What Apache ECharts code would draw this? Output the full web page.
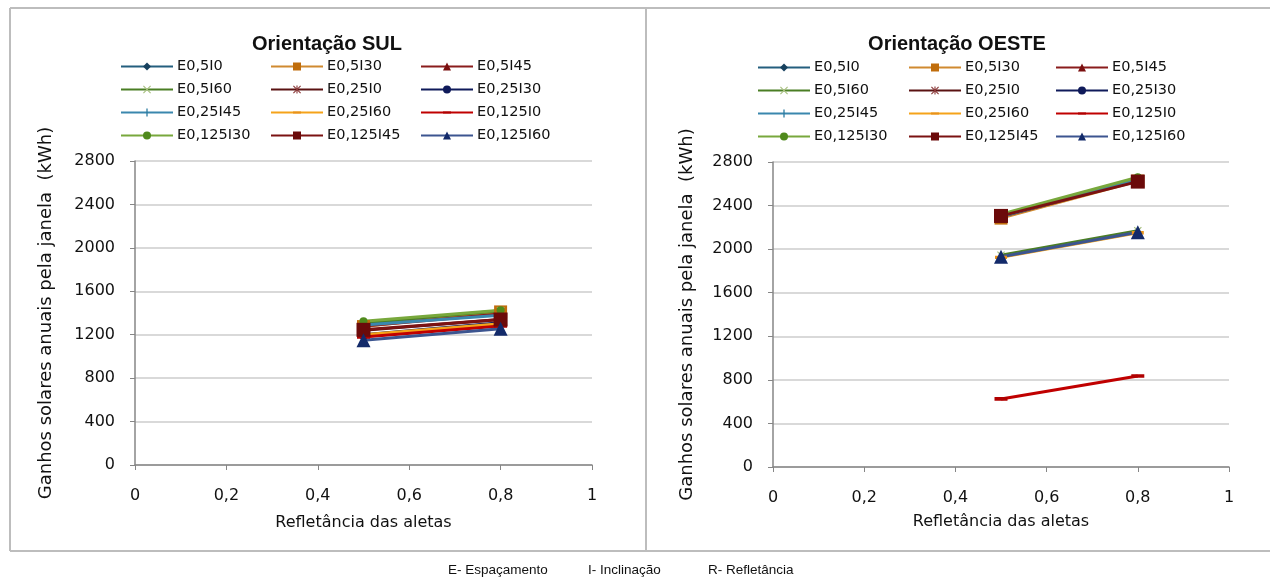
<!DOCTYPE html>
<html>
<head>
<meta charset="utf-8">
<script src="https://cdn.jsdelivr.net/npm/echarts@6/dist/echarts.min.js"></script>
<style>
  html, body { margin: 0; padding: 0; background: #fff; }
  #chart { width: 1270px; height: 580px; }
</style>
</head>
<body>
<div id="chart"></div>
<script>
// Fin reflectance values (x axis)
const reflectance = [0.5, 0.8];

// Cases: E = fin spacing, I = fin inclination
const caseNames = [
  'E0,5I0', 'E0,5I30', 'E0,5I45',
  'E0,5I60', 'E0,25I0', 'E0,25I30',
  'E0,25I45', 'E0,25I60', 'E0,125I0',
  'E0,125I30', 'E0,125I45', 'E0,125I60'
];

// Annual solar gains through the window (kWh), south orientation
const sulAt05 = [1300, 1275, 1280, 1310, 1240, 1200, 1290, 1200, 1180, 1325, 1245, 1150];
const sulAt08 = [1395, 1410, 1390, 1420, 1340, 1310, 1380, 1300, 1280, 1425, 1340, 1255];

// Annual solar gains through the window (kWh), west orientation
const oesteAt05 = [2310, 2285, 2305, 1945, 2300, 2310, 2300, 1925, 625, 2320, 2305, 1930];
const oesteAt08 = [2640, 2625, 2635, 2170, 2630, 2645, 2640, 2150, 835, 2660, 2620, 2155];

// Caption words under the panel
const captionParts = ['E- Espaçamento', 'I- Inclinação', 'R- Refletância'];

// Line / marker styling per case
const lineColors = ['#245f7e', '#d08a30', '#8a1c1c', '#4a7e24', '#5a1212', '#0f1a5a',
                    '#3a87ae', '#f5a31a', '#c00000', '#78a83c', '#7b1212', '#3c5590'];
const markColors = ['#17415e', '#c06d0c', '#7a0f0f', '#a8c080', '#8b3a3a', '#0f1a5a',
                    '#2a7aa0', '#e8921a', '#b00000', '#4f8a1c', '#6b0a0a', '#132a6a'];
const SYM_X = 'path://M0,1L1,0L5,4L9,0L10,1L6,5L10,9L9,10L5,6L1,10L0,9L4,5Z';
const SYM_STAR = 'path://M0,1L1,0L5,4L9,0L10,1L6,5L10,9L9,10L5,6L1,10L0,9L4,5Z M4.3,0L5.7,0L5.7,10L4.3,10Z';
const SYM_PLUS = 'path://M5,0L5.01,0L5,0.01Z M0,10L0.01,10L0,9.99Z M10,10L9.99,10L10,9.99Z M4.2,0L5.8,0L5.8,10L4.2,10Z';
// short horizontal bar; the two tiny corner points keep the symbol box square
const SYM_DASH = 'path://M0,0L0.01,0L0,0.01Z M10,10L9.99,10L10,9.99Z M0,3.6L10,3.6L10,6.4L0,6.4Z';
const symbols = ['diamond', 'rect', 'triangle', SYM_X, SYM_STAR, 'circle',
                 SYM_PLUS, SYM_DASH, SYM_DASH, 'circle', 'rect', 'triangle'];
const symbolSizes = [7, 13, 13, 8, 9, 10, 10, 12, 13, 8, 14, 14];

const FONT = '"Liberation Sans", Arial, sans-serif';
const WIDE = '"DejaVu Sans", "Liberation Sans", sans-serif';

function buildSeries(gridIdx, at05, at08) {
  return caseNames.map((name, i) => ({
    name: name,
    type: 'line',
    xAxisIndex: gridIdx,
    yAxisIndex: gridIdx,
    data: [[reflectance[0], at05[i]], [reflectance[1], at08[i]]],
    symbol: symbols[i],
    symbolSize: symbolSizes[i],
    showSymbol: true,
    lineStyle: { color: lineColors[i], width: 3 },
    itemStyle: { color: markColors[i] },
    emphasis: { disabled: true },
    animation: false
  }));
}

function xAxisFor(gridIdx, nameGap) {
  return {
    gridIndex: gridIdx,
    type: 'value',
    min: 0, max: 1, interval: 0.2,
    name: 'Refletância das aletas',
    nameLocation: 'middle',
    nameGap: nameGap,
    nameTextStyle: { fontFamily: WIDE, fontSize: 16, color: '#111' },
    axisLine: { show: true, onZero: false, lineStyle: { color: '#868686', width: 1.5 } },
    axisTick: { show: true, length: 5, lineStyle: { color: '#868686' } },
    axisLabel: {
      margin: 23, fontFamily: WIDE, fontSize: 16, color: '#111',
      formatter: v => String(Math.round(v * 10) / 10).replace('.', ',')
    },
    splitLine: { show: false }
  };
}

function yAxisFor(gridIdx, nameGap) {
  return {
    gridIndex: gridIdx,
    type: 'value',
    min: 0, max: 2800, interval: 400,
    name: 'Ganhos solares anuais pela janela  (kWh)',
    nameLocation: 'middle',
    nameGap: nameGap,
    nameTextStyle: { fontFamily: WIDE, fontSize: 18, color: '#111' },
    axisLine: { show: true, lineStyle: { color: '#868686', width: 1.5 } },
    axisTick: { show: true, length: 5, lineStyle: { color: '#868686' } },
    axisLabel: {
      margin: 20, fontFamily: WIDE, fontSize: 16, color: '#111',
      formatter: v => String(v)
    },
    splitLine: { show: true, lineStyle: { color: '#d9d9d9', width: 2 } }
  };
}

// Three legend columns per chart, four rows each
const legendColumns = [
  [caseNames[0], caseNames[3], caseNames[6], caseNames[9]],
  [caseNames[1], caseNames[4], caseNames[7], caseNames[10]],
  [caseNames[2], caseNames[5], caseNames[8], caseNames[11]]
];
function legendsFor(lefts, top) {
  return legendColumns.map((col, c) => ({
    data: col,
    orient: 'vertical',
    left: lefts[c],
    top: top,
    itemWidth: 52,
    itemHeight: 10,
    itemGap: 8,
    selectedMode: false,
    textStyle: { fontFamily: WIDE, fontSize: 14.5, color: '#111', padding: [0, 0, 0, -1] }
  }));
}

const chart = echarts.init(document.getElementById('chart'), null, { renderer: 'canvas' });

const captionLefts = [448, 588, 708];

chart.setOption({
  backgroundColor: '#ffffff',
  animation: false,
  title: [
    { text: 'Orientação SUL', left: 322, top: 29, textAlign: 'center',
      textStyle: { fontFamily: FONT, fontSize: 20, fontWeight: 'bold', color: '#111' } },
    { text: 'Orientação OESTE', left: 952, top: 29, textAlign: 'center',
      textStyle: { fontFamily: FONT, fontSize: 20, fontWeight: 'bold', color: '#111' } }
  ],
  legend: legendsFor([115, 265, 415], 54).concat(legendsFor([752, 903, 1050], 55)),
  grid: [
    { left: 135, top: 161, width: 457, height: 304 },
    { left: 773, top: 162, width: 456, height: 305 }
  ],
  xAxis: [xAxisFor(0, 50), xAxisFor(1, 47)],
  yAxis: [yAxisFor(0, 80), yAxisFor(1, 77)],
  series: buildSeries(0, sulAt05, sulAt08).concat(buildSeries(1, oesteAt05, oesteAt08)),
  graphic: [
    // table frame around the two charts
    { type: 'line', shape: { x1: 10, y1: 8, x2: 1270, y2: 8 }, style: { stroke: '#bdbdbd', lineWidth: 2 } },
    { type: 'line', shape: { x1: 10, y1: 551, x2: 1270, y2: 551 }, style: { stroke: '#bdbdbd', lineWidth: 2 } },
    { type: 'line', shape: { x1: 10, y1: 8, x2: 10, y2: 551 }, style: { stroke: '#bdbdbd', lineWidth: 2 } },
    { type: 'line', shape: { x1: 646, y1: 8, x2: 646, y2: 551 }, style: { stroke: '#bdbdbd', lineWidth: 2 } }
  ].concat(captionParts.map((t, i) => ({
    // caption below the frame
    type: 'text', left: captionLefts[i], top: 563,
    style: { text: t, font: '13.5px "Liberation Sans", Arial, sans-serif', fill: '#111' }
  })))
});
</script>
</body>
</html>
